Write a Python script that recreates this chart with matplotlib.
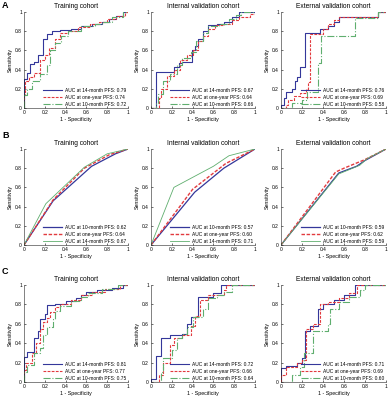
import matplotlib
matplotlib.use('Agg')
import matplotlib.pyplot as plt

plt.rcParams['font.family'] = ['Liberation Sans', 'DejaVu Sans']

W, H = 389, 400

titles = ['Training cohort', 'Internal validation cohort', 'External validation cohort']
ticks = [0, 0.2, 0.4, 0.6, 0.8, 1]
tick_labels = ['0', '0.2', '0.4', '0.6', '0.8', '1']

BLUE = '#34379a'
RED = '#e23a3e'
GREEN = '#5fae6e'

# ---- row A: step ROC curves (fpr, tpr)
a1_14m_x = [0, 0, 0.03, 0.06, 0.1, 0.13, 0.18, 0.22, 0.27, 0.35, 0.45, 0.55, 0.65, 0.75, 0.82, 0.88, 0.95, 1]
a1_14m_y = [0, 0.3, 0.36, 0.46, 0.48, 0.55, 0.72, 0.77, 0.8, 0.81, 0.82, 0.85, 0.87, 0.9, 0.93, 0.96, 1, 1]
a1_1y_x = [0, 0, 0.01, 0.05, 0.1, 0.15, 0.2, 0.24, 0.3, 0.35, 0.42, 0.52, 0.63, 0.72, 0.8, 0.88, 0.97, 1]
a1_1y_y = [0, 0.14, 0.28, 0.32, 0.36, 0.5, 0.55, 0.62, 0.72, 0.78, 0.8, 0.84, 0.87, 0.9, 0.93, 0.96, 1, 1]
a1_10m_x = [0, 0, 0.03, 0.08, 0.15, 0.22, 0.25, 0.3, 0.36, 0.42, 0.55, 0.68, 0.75, 0.85, 0.95, 1]
a1_10m_y = [0, 0.14, 0.2, 0.28, 0.35, 0.45, 0.6, 0.68, 0.75, 0.8, 0.85, 0.88, 0.9, 0.95, 1, 1]

a2_14m_x = [0, 0.05, 0.22, 0.27, 0.3, 0.39, 0.42, 0.45, 0.5, 0.55, 0.63, 0.7, 0.78, 0.85, 1]
a2_14m_y = [0, 0.38, 0.43, 0.47, 0.48, 0.6, 0.65, 0.72, 0.8, 0.86, 0.88, 0.9, 0.95, 1, 1]
a2_1y_x = [0, 0.07, 0.08, 0.1, 0.15, 0.22, 0.28, 0.35, 0.4, 0.45, 0.5, 0.55, 0.62, 0.7, 0.78, 0.85, 0.95, 1]
a2_1y_y = [0, 0, 0.1, 0.2, 0.33, 0.4, 0.5, 0.55, 0.6, 0.7, 0.75, 0.82, 0.86, 0.88, 0.92, 0.95, 0.98, 1]
a2_10m_x = [0, 0.05, 0.07, 0.12, 0.18, 0.25, 0.3, 0.38, 0.43, 0.5, 0.55, 0.65, 0.75, 0.82, 0.87, 1]
a2_10m_y = [0, 0.05, 0.15, 0.28, 0.35, 0.45, 0.52, 0.58, 0.7, 0.78, 0.85, 0.88, 0.93, 0.97, 1, 1]

a3_14m_x = [0, 0, 0.03, 0.05, 0.1, 0.13, 0.15, 0.18, 0.23, 0.37, 0.45, 0.5, 0.55, 0.92, 1]
a3_14m_y = [0, 0.03, 0.1, 0.17, 0.2, 0.28, 0.32, 0.43, 0.78, 0.82, 0.85, 0.9, 0.95, 1, 1]
a3_1y_x = [0, 0.05, 0.07, 0.12, 0.18, 0.24, 0.26, 0.28, 0.4, 0.45, 0.5, 0.55, 0.92, 1]
a3_1y_y = [0, 0.03, 0.08, 0.12, 0.16, 0.2, 0.27, 0.77, 0.82, 0.88, 0.92, 0.95, 1, 1]
a3_10m_x = [0, 0.1, 0.2, 0.25, 0.35, 0.38, 0.7, 0.92, 1]
a3_10m_y = [0, 0.05, 0.08, 0.17, 0.47, 0.75, 0.94, 1, 1]

# ---- row B: smooth ROC curves
b1_10m_x = [0, 0.28, 0.65, 0.88, 1]
b1_10m_y = [0, 0.46, 0.82, 0.95, 1]
b1_1y_x = [0, 0.28, 0.58, 0.82, 1]
b1_1y_y = [0, 0.47, 0.8, 0.94, 1]
b1_14m_x = [0, 0.21, 0.58, 0.8, 1]
b1_14m_y = [0, 0.43, 0.81, 0.95, 1]

b2_10m_x = [0, 0.42, 0.7, 1]
b2_10m_y = [0, 0.55, 0.8, 1]
b2_1y_x = [0, 0.4, 0.72, 1]
b2_1y_y = [0, 0.58, 0.85, 1]
b2_14m_x = [0, 0.22, 0.6, 0.75, 1]
b2_14m_y = [0, 0.6, 0.82, 0.93, 1]

b3_10m_x = [0, 0.55, 0.72, 0.8, 1]
b3_10m_y = [0, 0.75, 0.82, 0.88, 1]
b3_1y_x = [0, 0.52, 0.6, 0.8, 1]
b3_1y_y = [0, 0.76, 0.8, 0.89, 1]
b3_14m_x = [0, 0.55, 0.75, 0.82, 1]
b3_14m_y = [0, 0.74, 0.83, 0.9, 1]

# ---- row C: step ROC curves
c1_14m_x = [0, 0, 0.03, 0.1, 0.13, 0.15, 0.2, 0.22, 0.3, 0.4, 0.5, 0.55, 0.6, 0.7, 0.85, 0.95, 1]
c1_14m_y = [0, 0.26, 0.31, 0.45, 0.53, 0.65, 0.7, 0.79, 0.8, 0.83, 0.87, 0.9, 0.93, 0.95, 0.97, 1, 1]
c1_1y_x = [0, 0, 0.02, 0.08, 0.12, 0.15, 0.18, 0.22, 0.25, 0.3, 0.35, 0.45, 0.55, 0.65, 0.78, 0.92, 1]
c1_1y_y = [0, 0.12, 0.2, 0.3, 0.4, 0.55, 0.62, 0.66, 0.72, 0.77, 0.8, 0.85, 0.9, 0.93, 0.96, 1, 1]
c1_10m_x = [0, 0, 0.03, 0.1, 0.15, 0.18, 0.22, 0.28, 0.3, 0.35, 0.45, 0.55, 0.62, 0.75, 0.9, 1]
c1_10m_y = [0, 0.1, 0.18, 0.3, 0.35, 0.48, 0.57, 0.65, 0.73, 0.78, 0.83, 0.88, 0.92, 0.96, 1, 1]

c2_14m_x = [0, 0, 0.05, 0.1, 0.18, 0.3, 0.35, 0.38, 0.45, 0.6, 0.67, 1]
c2_14m_y = [0, 0.03, 0.27, 0.45, 0.48, 0.5, 0.6, 0.67, 0.88, 0.92, 1, 1]
c2_1y_x = [0, 0.08, 0.12, 0.18, 0.22, 0.3, 0.38, 0.42, 0.47, 0.55, 0.7, 0.72, 1]
c2_1y_y = [0, 0.07, 0.2, 0.38, 0.45, 0.48, 0.58, 0.68, 0.85, 0.9, 0.95, 1, 1]
c2_10m_x = [0, 0.1, 0.12, 0.2, 0.25, 0.3, 0.35, 0.4, 0.5, 0.55, 0.63, 0.7, 0.78, 1]
c2_10m_y = [0, 0.1, 0.25, 0.33, 0.45, 0.5, 0.57, 0.67, 0.75, 0.87, 0.9, 0.93, 1, 1]

c3_14m_x = [0, 0, 0.05, 0.15, 0.2, 0.23, 0.28, 0.35, 0.4, 0.5, 0.6, 0.7, 1]
c3_14m_y = [0, 0.14, 0.17, 0.2, 0.25, 0.53, 0.58, 0.75, 0.8, 0.85, 0.9, 1, 1]
c3_1y_x = [0, 0, 0.05, 0.15, 0.2, 0.24, 0.3, 0.37, 0.45, 0.55, 0.65, 0.72, 1]
c3_1y_y = [0, 0.07, 0.15, 0.2, 0.23, 0.55, 0.6, 0.8, 0.82, 0.87, 0.92, 1, 1]
c3_10m_x = [0, 0.1, 0.18, 0.22, 0.3, 0.45, 0.47, 0.55, 0.65, 0.75, 0.8, 1]
c3_10m_y = [0, 0.07, 0.15, 0.3, 0.53, 0.6, 0.75, 0.82, 0.88, 0.95, 1, 1]

auc_a = [(0.79, 0.74, 0.72), (0.67, 0.64, 0.66), (0.76, 0.69, 0.58)]
auc_b = [(0.62, 0.64, 0.67), (0.57, 0.60, 0.71), (0.59, 0.62, 0.59)]
auc_c = [(0.81, 0.77, 0.75), (0.72, 0.66, 0.64), (0.71, 0.69, 0.60)]

rows_steps = {
    'A': [((a1_14m_x, a1_14m_y), (a1_1y_x, a1_1y_y), (a1_10m_x, a1_10m_y)),
          ((a2_14m_x, a2_14m_y), (a2_1y_x, a2_1y_y), (a2_10m_x, a2_10m_y)),
          ((a3_14m_x, a3_14m_y), (a3_1y_x, a3_1y_y), (a3_10m_x, a3_10m_y))],
    'C': [((c1_14m_x, c1_14m_y), (c1_1y_x, c1_1y_y), (c1_10m_x, c1_10m_y)),
          ((c2_14m_x, c2_14m_y), (c2_1y_x, c2_1y_y), (c2_10m_x, c2_10m_y)),
          ((c3_14m_x, c3_14m_y), (c3_1y_x, c3_1y_y), (c3_10m_x, c3_10m_y))],
}
rows_b = [((b1_10m_x, b1_10m_y), (b1_1y_x, b1_1y_y), (b1_14m_x, b1_14m_y)),
          ((b2_10m_x, b2_10m_y), (b2_1y_x, b2_1y_y), (b2_14m_x, b2_14m_y)),
          ((b3_10m_x, b3_10m_y), (b3_1y_x, b3_1y_y), (b3_14m_x, b3_14m_y))]

# pixel boxes: (left, right) per column and (top, bottom) per row
cols_px = [(24, 128), (151, 255), (281, 386)]
rows_px = {'A': (12, 108), 'B': (149, 245), 'C': (285, 382)}

fig = plt.figure(figsize=(W / 100, H / 100), dpi=100)


def make_axes(row, col):
    l, r = cols_px[col]
    t, b = rows_px[row]
    ax = fig.add_axes([l / W, 1 - b / H, (r - l) / W, (b - t) / H])
    ax.set_xlim(0, 1)
    ax.set_ylim(0, 1)
    ax.spines['top'].set_visible(False)
    ax.spines['right'].set_visible(False)
    for s in ('left', 'bottom'):
        ax.spines[s].set_linewidth(0.4)
        ax.spines[s].set_color('#222222')
    ax.set_xticks(ticks)
    ax.set_xticklabels(tick_labels)
    ax.set_yticks(ticks)
    ax.set_yticklabels(tick_labels)
    ax.tick_params(labelsize=3.5, length=1.2, width=0.4, pad=1.5, direction='in')
    ax.set_title(titles[col], fontsize=4.8, pad=3)
    ax.set_xlabel('1 - Specificity', fontsize=3.8, labelpad=1.5)
    ax.set_ylabel('Sensitivity', fontsize=3.8, labelpad=1.5)
    return ax


def add_legend(ax):
    ax.legend(loc='lower right', frameon=False, fontsize=3.5, handlelength=4.0,
              handletextpad=0.6, labelspacing=0.35, borderaxespad=0.1,
              borderpad=0.2)


for row, aucs in (('A', auc_a), ('C', auc_c)):
    for col in range(3):
        ax = make_axes(row, col)
        c14, c1y, c10 = rows_steps[row][col]
        a14, a1y, a10 = aucs[col]
        ax.step(c14[0], c14[1], where='post', color=BLUE, lw=0.8,
                label='AUC at 14-month PFS: %.2f' % a14)
        ax.step(c1y[0], c1y[1], where='post', color=RED, lw=0.8, ls=(0, (2.5, 1.2)),
                label='AUC at one-year PFS: %.2f' % a1y)
        ax.step(c10[0], c10[1], where='post', color=GREEN, lw=0.8, ls='-.',
                label='AUC at 10-month PFS: %.2f' % a10)
        add_legend(ax)

for col in range(3):
    ax = make_axes('B', col)
    c10, c1y, c14 = rows_b[col]
    a10, a1y, a14 = auc_b[col]
    ax.plot(c10[0], c10[1], color=BLUE, lw=0.9,
            label='AUC at 10-month PFS: %.2f' % a10)
    ax.plot(c1y[0], c1y[1], color=RED, lw=1.0, ls=(0, (2.5, 1.2)),
            label='AUC at one-year PFS: %.2f' % a1y)
    ax.plot(c14[0], c14[1], color=GREEN, lw=0.6,
            label='AUC at 14-month PFS: %.2f' % a14)
    add_legend(ax)

for letter, y in (('A', 5), ('B', 135), ('C', 272)):
    fig.text(2 / W, 1 - y / H, letter, fontsize=6.5, fontweight='bold',
             va='center', ha='left')

fig.savefig('out.png', dpi=100)
